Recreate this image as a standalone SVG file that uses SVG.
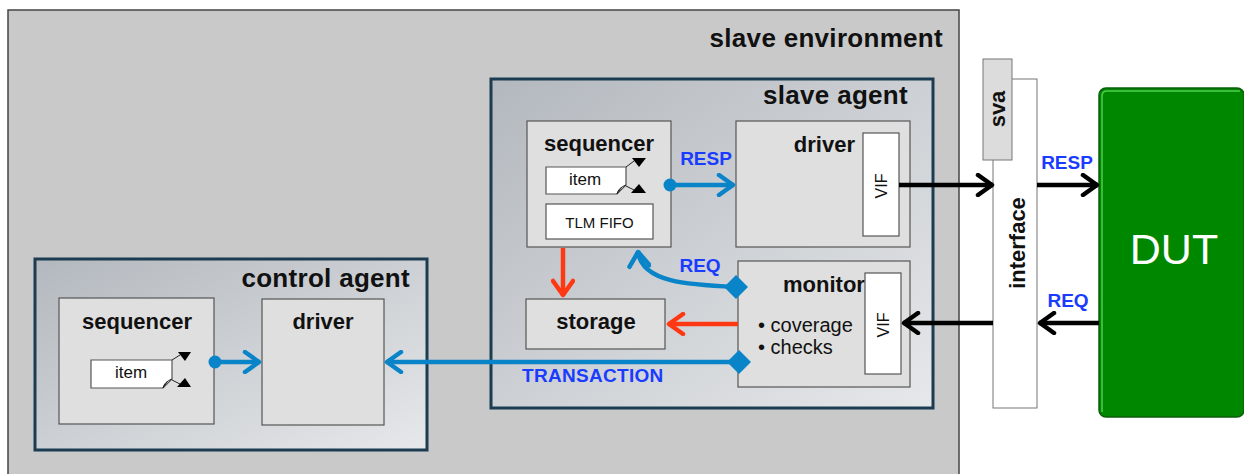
<svg xmlns="http://www.w3.org/2000/svg" width="1244" height="474" viewBox="0 0 1244 474">
  <defs>
    <linearGradient id="agentFill" x1="0" y1="0" x2="1" y2="1">
      <stop offset="0" stop-color="#b3b8be"/>
      <stop offset="1" stop-color="#e6e8ea"/>
    </linearGradient>
    <marker id="ahBlue" viewBox="0 0 20 24" refX="18" refY="12" markerWidth="20" markerHeight="24" markerUnits="userSpaceOnUse" orient="auto">
      <path d="M3,2 L17,12 L3,22" fill="none" stroke="#0a84c8" stroke-width="4.5" stroke-linecap="round" stroke-linejoin="round"/>
    </marker>
    <marker id="ahRed" viewBox="0 0 20 24" refX="18" refY="12" markerWidth="20" markerHeight="24" markerUnits="userSpaceOnUse" orient="auto">
      <path d="M3,2 L17,12 L3,22" fill="none" stroke="#ff3814" stroke-width="4.5" stroke-linecap="round" stroke-linejoin="round"/>
    </marker>
    <marker id="ahBlack" viewBox="0 0 20 24" refX="18" refY="12" markerWidth="20" markerHeight="24" markerUnits="userSpaceOnUse" orient="auto">
      <path d="M3,2 L17,12 L3,22" fill="none" stroke="#000" stroke-width="4.5" stroke-linecap="round" stroke-linejoin="round"/>
    </marker>
  </defs>
  <style>
    text { font-family: "Liberation Sans", Arial, sans-serif; }
    .env { fill: #c9c9c9; stroke: #444; stroke-width: 1.5; }
    .agent { fill: url(#agentFill); stroke: #1c3c52; stroke-width: 3; }
    .box { fill: #dfdfdf; stroke: #555; stroke-width: 1.2; }
    .white { fill: #fff; stroke: #555; stroke-width: 1.2; }
    .title { font-size: 26px; font-weight: bold; letter-spacing: 0.3px; fill: #111; }
    .name { font-size: 22px; font-weight: bold; fill: #111; }
    .small { font-size: 15px; fill: #111; }
    .item { font-size: 17px; fill: #111; }
    .vif { font-size: 16px; fill: #111; }
    .list { font-size: 20px; fill: #111; }
    .lbl { font-size: 19px; font-weight: bold; fill: #1a3cff; }
    .blue { stroke: #0a84c8; stroke-width: 4.5; fill: none; }
    .red { stroke: #ff3814; stroke-width: 4.5; fill: none; }
    .black { stroke: #000; stroke-width: 4.5; fill: none; }
    .thin { stroke: #222; stroke-width: 1; fill: none; }
  </style>

  <rect width="1244" height="474" fill="#fff"/>

  <!-- slave environment container -->
  <g id="slave-environment">
    <rect class="env" x="8" y="10" width="951" height="480"/>
    <text class="title" x="943" y="47" text-anchor="end">slave environment</text>
  </g>

  <!-- slave agent container -->
  <g id="slave-agent">
    <rect class="agent" x="491" y="79" width="442" height="329"/>
    <text class="title" x="908" y="104" text-anchor="end">slave agent</text>
  </g>

  <!-- control agent container -->
  <g id="control-agent">
    <rect class="agent" x="35" y="259" width="392" height="191"/>
    <text class="title" x="410" y="287" text-anchor="end">control agent</text>
  </g>

  <g id="slave-sequencer">
    <rect class="box" x="527" y="121" width="144" height="126"/>
    <text class="name" x="599" y="151" text-anchor="middle">sequencer</text>
    <path class="white" d="M546,167 H626 V185 L617,194 H546 Z"/>
    <path class="thin" d="M617,194 Q618,188 626,185 M617,194 L621,188"/>
    <text class="item" x="585" y="185" text-anchor="middle">item</text>
    <path class="thin" d="M626,167 L634,161 M626,186 L634,190"/>
    <polygon points="632,158 646,158 639,167" fill="#000"/>
    <polygon points="639,184 646,193 631,193" fill="#000"/>
    <rect class="white" x="546" y="204" width="107" height="35"/>
    <text class="small" x="599.5" y="228" text-anchor="middle">TLM FIFO</text>
  </g>

  <g id="slave-driver">
    <rect class="box" x="736" y="121" width="174" height="126"/>
    <text class="name" x="855" y="152" text-anchor="end">driver</text>
    <rect class="white" x="863" y="133" width="36" height="103"/>
    <text class="vif" transform="translate(887,186) rotate(-90)" text-anchor="middle">VIF</text>
  </g>

  <g id="monitor">
    <rect class="box" x="738" y="261" width="172" height="126"/>
    <text class="name" x="783" y="292">monitor</text>
    <rect class="white" x="865" y="273" width="36" height="101"/>
    <text class="vif" transform="translate(889,325) rotate(-90)" text-anchor="middle">VIF</text>
    <text class="list" x="758" y="332">• coverage</text>
    <text class="list" x="758" y="354">• checks</text>
  </g>

  <g id="storage">
    <rect class="box" x="526" y="299" width="139" height="50"/>
    <text class="name" x="596" y="329" text-anchor="middle">storage</text>
  </g>

  <g id="control-sequencer">
    <rect class="box" x="59" y="298" width="155" height="126"/>
    <text class="name" x="137" y="329" text-anchor="middle">sequencer</text>
    <path class="white" d="M91,360 H172 V379 L163,388 H91 Z"/>
    <path class="thin" d="M163,388 Q164,382 172,379 M163,388 L167,382"/>
    <text class="item" x="131" y="378" text-anchor="middle">item</text>
    <path class="thin" d="M172,360 L180,355 M172,380 L180,384"/>
    <polygon points="178,352 191,352 185,361" fill="#000"/>
    <polygon points="185,378 191,387 177,387" fill="#000"/>
  </g>

  <g id="control-driver">
    <rect class="box" x="262" y="299" width="122" height="126"/>
    <text class="name" x="323" y="329" text-anchor="middle">driver</text>
  </g>

  <g id="interface">
    <rect x="993" y="79" width="44" height="329" fill="#fff" stroke="#777" stroke-width="1"/>
    <text class="name" transform="translate(1025,243) rotate(-90)" text-anchor="middle">interface</text>
  </g>

  <g id="sva">
    <rect x="983" y="59" width="29" height="101" fill="#dcdcdc" stroke="#777" stroke-width="1"/>
    <text class="name" transform="translate(1005,109) rotate(-90)" text-anchor="middle">sva</text>
  </g>

  <g id="dut">
    <rect x="1099" y="88" width="145" height="329" rx="7" fill="#008700" stroke="#0b5f0b" stroke-width="1.5"/>
    <path d="M1102,412 V96 Q1102,91 1107,91 H1240" fill="none" stroke="#4fcf4f" stroke-width="1.5"/>
    <text x="1174" y="264" text-anchor="middle" font-size="43" fill="#fff">DUT</text>
  </g>

  <!-- connectors -->
  <g id="connectors">
    <!-- control sequencer to control driver -->
    <circle cx="215" cy="362" r="6.5" fill="#0a84c8"/>
    <line class="blue" x1="215" y1="362" x2="260" y2="362" marker-end="url(#ahBlue)"/>

    <!-- monitor transaction port to control driver -->
    <line class="blue" x1="739" y1="362" x2="386" y2="362" marker-end="url(#ahBlue)"/>
    <polygon points="727,362 739,350 751,362 739,374" fill="#0a84c8"/>
    <text class="lbl" x="522" y="382" letter-spacing="0.3">TRANSACTION</text>

    <!-- sequencer response to driver -->
    <circle cx="670" cy="185" r="6.5" fill="#0a84c8"/>
    <line class="blue" x1="670" y1="185" x2="734" y2="185" marker-end="url(#ahBlue)"/>
    <text class="lbl" x="706" y="165" text-anchor="middle">RESP</text>

    <!-- monitor request back to sequencer -->
    <path class="blue" d="M736,287 C690,285 641,283 638,251" marker-end="url(#ahBlue)"/>
    <polygon points="724,287 736,275 748,287 736,299" fill="#0a84c8"/>
    <text class="lbl" x="700" y="272" text-anchor="middle">REQ</text>

    <!-- storage feeds -->
    <line class="red" x1="563" y1="248" x2="563" y2="296" marker-end="url(#ahRed)"/>
    <line class="red" x1="738" y1="324" x2="668" y2="324" marker-end="url(#ahRed)"/>

    <!-- pin-level signals -->
    <line class="black" x1="899" y1="185" x2="993" y2="185" marker-end="url(#ahBlack)"/>
    <line class="black" x1="1037" y1="185" x2="1098" y2="185" marker-end="url(#ahBlack)"/>
    <text class="lbl" x="1067" y="169" text-anchor="middle">RESP</text>
    <line class="black" x1="1099" y1="323" x2="1039" y2="323" marker-end="url(#ahBlack)"/>
    <line class="black" x1="993" y1="323" x2="903" y2="323" marker-end="url(#ahBlack)"/>
    <text class="lbl" x="1068" y="307" text-anchor="middle">REQ</text>
  </g>
</svg>
